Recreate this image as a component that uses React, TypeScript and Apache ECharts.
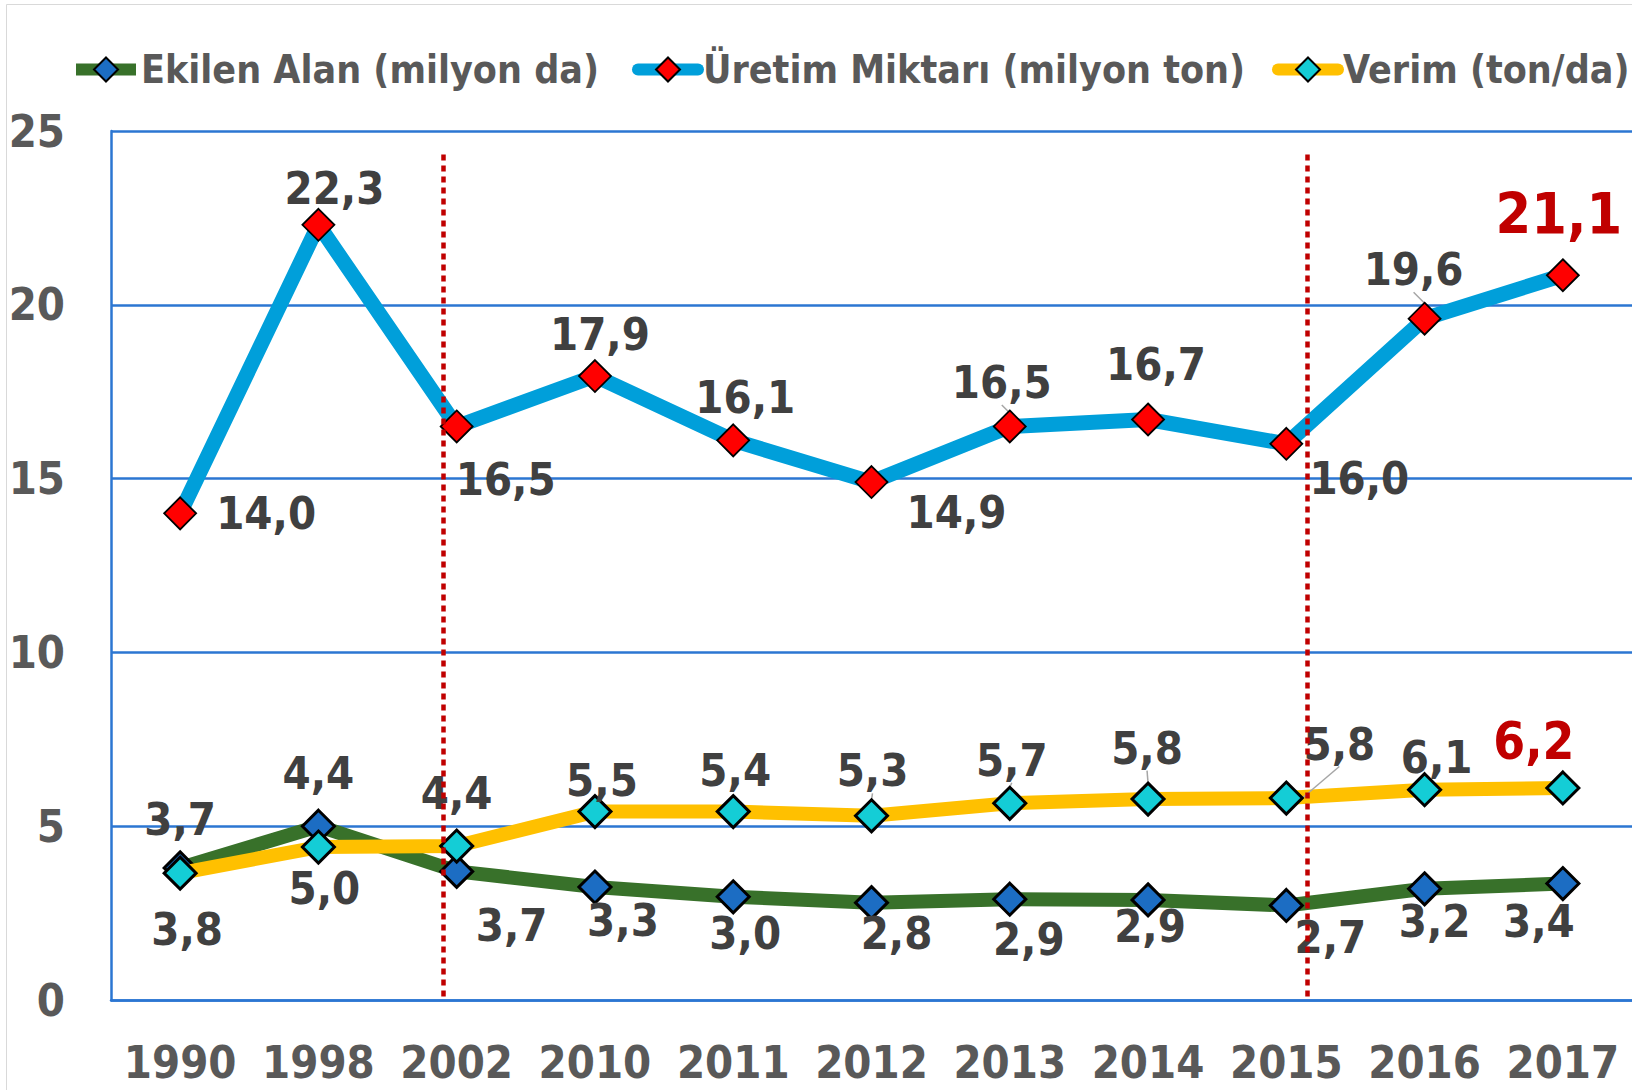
import React, { useEffect, useRef } from "react";
import * as echarts from "echarts";

const years = ["1990", "1998", "2002", "2010", "2011", "2012", "2013", "2014", "2015", "2016", "2017"];

// values as plotted
const ekilenAlan = [3.8, 5.0, 3.7, 3.25, 2.97, 2.8, 2.9, 2.88, 2.72, 3.2, 3.35];
const uretim = [14.0, 22.3, 16.5, 17.95, 16.1, 14.9, 16.5, 16.7, 16.0, 19.6, 20.85];
const verim = [3.65, 4.4, 4.43, 5.42, 5.42, 5.3, 5.66, 5.78, 5.81, 6.05, 6.1];

// data label texts
const ekilenLabels = ["3,8", "5,0", "3,7", "3,3", "3,0", "2,8", "2,9", "2,9", "2,7", "3,2", "3,4"];
const uretimLabels = ["14,0", "22,3", "16,5", "17,9", "16,1", "14,9", "16,5", "16,7", "16,0", "19,6", "21,1"];
const verimLabels = ["3,7", "4,4", "4,4", "5,5", "5,4", "5,3", "5,7", "5,8", "5,8", "6,1", "6,2"];

const yTicks = [0, 5, 10, 15, 20, 25];

// vertical marker positions (in category-index units)
const markerPositions = [1.9, 8.15];

// label offsets (styling)
const ekilenOffsets = [[7, 62], [6, 62], [55, 54], [28, 33], [12, 37], [25, 31], [19, 40], [2, 27], [44, 32], [10, 33], [-24, 38]];
const uretimOffsets = [[86, 0], [16, -36], [49, 53], [5, -42], [12, -43], [85, 30], [-8, -44], [8, -55], [73, 35], [-11, -49], [-4, -61]];
const verimOffsets = [[0, -54], [0, -74], [0, -53], [7, -31], [2, -41], [1, -45], [2, -43], [-1, -51], [53, -54], [12, -32], [-29, -46]];

const uretimGuides = [6, 9];
const verimGuides = [5, 6, 7, 8];

const FONT = "'DejaVu Sans Condensed', 'Liberation Sans', Arial, sans-serif";
const LABEL_COLOR = "#404040";
const AXIS_COLOR = "#595959";
const GRID_COLOR = "#2B76D2";

const seriesNames = ["Ekilen Alan (milyon da)", "Üretim Miktarı (milyon ton)", "Verim (ton/da)"];
const legendLefts = [70, 632, 1272];

function buildData(
  values: number[],
  labels: string[],
  offsets: number[][],
  guides: number[],
  highlight: number,
  highlightSize: number
) {
  return values.map((v, i) => {
    const item: any = {
      value: v,
      label: {
        offset: offsets[i],
        formatter: labels[i],
      },
    };
    if (i === highlight) {
      item.label.color = "#C00000";
      item.label.fontSize = highlightSize;
    }
    if (guides.includes(i)) {
      item.labelLine = { show: true, lineStyle: { color: "#A6A6A6", width: 1.5 } };
    }
    return item;
  });
}

const baseLabel = {
  show: true,
  position: "inside",
  fontSize: 45,
  fontWeight: "bold",
  fontFamily: FONT,
  color: LABEL_COLOR,
};

export default function App() {
  const ref = useRef<HTMLDivElement>(null);

  useEffect(() => {
    document.body.style.margin = "0";
    if (!ref.current) return;
    const chart = echarts.init(ref.current, undefined, { renderer: "svg" });
    chart.setOption({
      animation: false,
      backgroundColor: "#ffffff",
      graphic: [
        {
          type: "rect",
          left: 4,
          top: 2,
          shape: { width: 1700, height: 1200 },
          style: { fill: "none", stroke: "#D9D9D9", lineWidth: 1 },
          silent: true,
          z: -10,
        },
      ],
      legend: seriesNames.map((name, i) => ({
        left: legendLefts[i],
        top: 50,
        padding: 0,
        itemWidth: 60,
        itemHeight: 30,
        textStyle: { fontSize: 39, fontWeight: "bold", color: AXIS_COLOR, fontFamily: FONT },
        data: [{ name, lineStyle: { width: 12, cap: i === 0 ? "butt" : "round" } }],
      })),
      grid: { left: 111, top: 131, width: 1527, height: 869, containLabel: false },
      xAxis: [
        {
          type: "category",
          data: years,
          boundaryGap: true,
          axisLine: { show: true, lineStyle: { color: GRID_COLOR, width: 2.5 } },
          axisTick: { show: false },
          axisLabel: {
            interval: 0,
            margin: 40,
            fontSize: 45,
            fontWeight: "bold",
            fontFamily: FONT,
            color: AXIS_COLOR,
          },
          splitLine: { show: false },
        },
        {
          type: "value",
          min: -0.5,
          max: 10.5,
          show: false,
        },
      ],
      yAxis: {
        type: "value",
        min: yTicks[0],
        max: yTicks[yTicks.length - 1],
        interval: 5,
        axisLine: { show: true, onZero: false, lineStyle: { color: GRID_COLOR, width: 2.5 } },
        axisTick: { show: false },
        axisLabel: {
          margin: 46,
          fontSize: 45,
          fontWeight: "bold",
          fontFamily: FONT,
          color: AXIS_COLOR,
        },
        splitLine: { show: true, lineStyle: { color: GRID_COLOR, width: 2.5 } },
      },
      series: [
        {
          name: seriesNames[0],
          type: "line",
          data: buildData(ekilenAlan, ekilenLabels, ekilenOffsets, [], -1, 45),
          symbol: "diamond",
          symbolSize: 32,
          lineStyle: { color: "#38712A", width: 14, join: "round" },
          itemStyle: { color: "#1C6DC3", borderColor: "#000000", borderWidth: 3 },
          label: baseLabel,
          z: 2,
        },
        {
          name: seriesNames[1],
          type: "line",
          data: buildData(uretim, uretimLabels, uretimOffsets, uretimGuides, 10, 57),
          symbol: "diamond",
          symbolSize: 32,
          lineStyle: { color: "#009FDA", width: 15, join: "round" },
          itemStyle: { color: "#FF0000", borderColor: "#000000", borderWidth: 1.8 },
          label: baseLabel,
          z: 3,
        },
        {
          name: seriesNames[2],
          type: "line",
          data: buildData(verim, verimLabels, verimOffsets, verimGuides, 10, 51),
          symbol: "diamond",
          symbolSize: 32,
          lineStyle: { color: "#FFC000", width: 14, join: "round" },
          itemStyle: { color: "#14CDD6", borderColor: "#000000", borderWidth: 3 },
          label: baseLabel,
          z: 4,
        },
        {
          name: "markers",
          type: "line",
          xAxisIndex: 1,
          data: [],
          z: 5,
          markLine: {
            silent: true,
            symbol: "none",
            label: { show: false },
            lineStyle: { color: "#C00000", type: [6, 5], width: 4.5 },
            data: markerPositions.map((p) => [{ coord: [p, 0.1] }, { coord: [p, 24.35] }]),
          },
        },
      ],
    });
    return () => chart.dispose();
  }, []);

  return <div ref={ref} style={{ width: 1632, height: 1090, position: "absolute", left: 0, top: 0 }} />;
}
